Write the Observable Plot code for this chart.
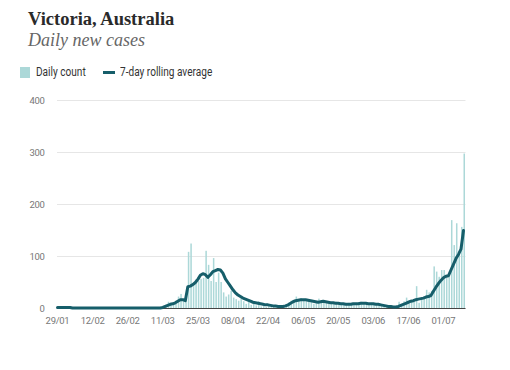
<!DOCTYPE html>
<html>
<head>
<meta charset="utf-8">
<script src="https://cdn.jsdelivr.net/npm/d3@7"></script>
<script src="https://cdn.jsdelivr.net/npm/@observablehq/plot@0.6"></script>
<style>
  html, body { margin: 0; padding: 0; background: #fff; }
  #wrap { position: relative; width: 510px; height: 370px; overflow: hidden; }
  .title { position: absolute; left: 28px; top: 9.5px; font-family: "Liberation Serif", serif; font-weight: bold; font-size: 18.5px; line-height: 18.5px; color: #2a2a2a; white-space: nowrap; }
  .subtitle { position: absolute; left: 28px; top: 31px; font-family: "Liberation Serif", serif; font-style: italic; font-size: 18px; line-height: 18px; color: #666; white-space: nowrap; }
  .legend { position: absolute; left: 0; top: 62px; font-family: Roboto, sans-serif; font-size: 12px; color: #333; }
  .sw-rect { position: absolute; left: 20px; top: 5px; width: 10px; height: 11px; background: #acd8d8; }
  .lab1 { position: absolute; left: 36px; top: 3px; white-space: nowrap; line-height: 14px; transform: scaleX(0.84); transform-origin: 0 0; }
  .sw-line { position: absolute; left: 103px; top: 9px; width: 12px; height: 3px; background: #165e6a; }
  .lab2 { position: absolute; left: 120px; top: 3px; white-space: nowrap; line-height: 14px; transform: scaleX(0.84); transform-origin: 0 0; }
  #chart { position: absolute; left: 0; top: 90px; }
</style>
</head>
<body>
<div id="wrap">
  <div class="title">Victoria, Australia</div>
  <div class="subtitle">Daily new cases</div>
  <div class="legend">
    <div class="sw-rect"></div><div class="lab1">Daily count</div>
    <div class="sw-line"></div><div class="lab2">7-day rolling average</div>
  </div>
  <div id="chart"></div>
</div>
<script>
// ---- data ----
const startDate = "2020-01-29";
const dailyCount = [
  1,0,1,0,0,0,0,0,0,0,
  0,0,0,0,0,0,0,0,0,0,
  0,0,0,0,0,0,0,0,0,0,
  0,0,1,2,0,1,2,1,0,1,
  1,2,3,6,12,10,8,14,22,27,
  18,16,108,124,45,55,52,56,58,110,
  83,52,96,50,68,50,30,22,26,33,
  20,17,14,19,13,8,12,6,9,5,
  13,3,4,2,7,3,1,2,3,1,
  2,6,10,14,13,22,17,19,15,13,
  17,11,8,12,18,14,15,10,9,11,
  8,12,7,9,6,8,10,7,9,10,
  8,12,9,11,8,10,7,9,6,5,
  4,3,2,4,2,3,12,8,13,20,
  9,13,16,42,10,18,20,35,30,33,
  80,70,60,73,73,60,66,169,121,163,
  110,156,297
];
const rollingAvg = [
  2,2,2,2,2,2,1,1,1,1,
  1,1,1,1,1,1,1,1,1,1,
  1,1,1,1,1,1,1,1,1,1,
  1,1,1,1,1,1,1,1,1,1,
  1,1,2,4,6,8,9,11,14,17,
  17,15,42,43,46,50,56,64,67,65,
  60,65,71,73,75,74,68,57,50,43,
  36,30,26,23,20,18,16,14,12,11,
  10,9,8,7,7,6,5,5,4,4,
  4,5,7,10,13,15,16,17,17,17,
  16,15,14,13,12,13,14,13,12,11,
  11,10,10,9,9,8,8,8,9,9,
  9,10,10,10,9,9,9,8,8,7,
  6,5,4,4,3,3,4,6,8,10,
  12,14,15,17,18,19,20,22,23,25,
  33,41,48,54,59,62,63,74,85,96,
  104,114,150
];
const xTickLabels = ["29/01","12/02","26/02","11/03","25/03","08/04","22/04","06/05","20/05","03/06","17/06","01/07"];
const yTicks = [0, 100, 200, 300, 400];

// ---- build table ----
const start = d3.utcParse("%Y-%m-%d")(startDate);
const data = dailyCount.map((c, i) => ({date: d3.utcDay.offset(start, i), count: c, avg: rollingAvg[i]}));
const tickDates = xTickLabels.map(s => d3.utcParse("%d/%m/%Y")(s + "/2020"));
const labelOf = new Map(tickDates.map((d, i) => [+d, xTickLabels[i]]));

const chart = Plot.plot({
  width: 510,
  height: 245,
  marginTop: 10,
  marginBottom: 27,
  marginLeft: 57,
  marginRight: 44.5,
  style: {fontFamily: "Roboto, sans-serif", fontSize: "9.5px", letterSpacing: "-0.3px", color: "#777", background: "#fff"},
  x: {type: "utc", domain: [start, d3.utcDay.offset(start, dailyCount.length)]},
  y: {domain: [0, 400]},
  marks: [
    Plot.gridY(yTicks, {stroke: "#e6e6e6", strokeOpacity: 1}),
    Plot.axisY(yTicks, {tickSize: 0, tickPadding: 13, label: null, fill: "#777"}),
    Plot.axisX(tickDates, {tickSize: 0, tickPadding: 9, label: null, tickFormat: d => labelOf.get(+d), fill: "#777"}),
    Plot.rectY(data, {x: "date", y: "count", interval: "day", fill: "#acd8d8", insetLeft: 0.5, insetRight: 0.5}),
    Plot.ruleY([0], {stroke: "#444", strokeWidth: 1}),
    Plot.lineY(data, {x: "date", y: "avg", stroke: "#165e6a", strokeWidth: 3, strokeLinejoin: "round", strokeLinecap: "round"})
  ]
});
document.getElementById("chart").appendChild(chart);
</script>
</body>
</html>
